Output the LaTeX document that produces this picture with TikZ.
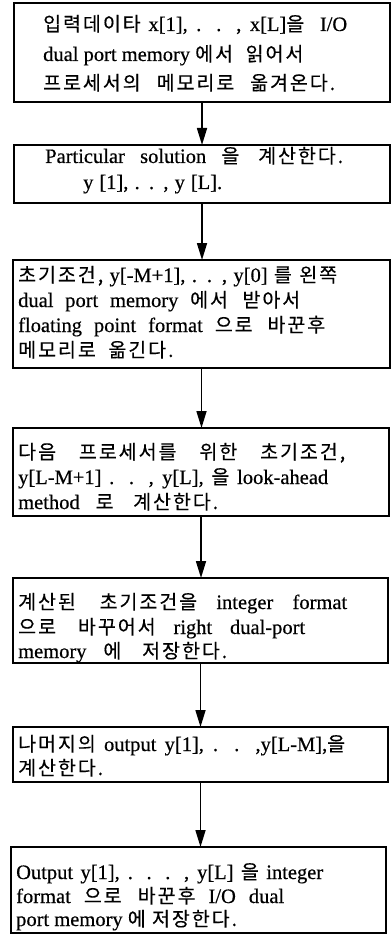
\documentclass[tikz,border=0pt]{standalone}
\usepackage{fontspec}
\setmainfont{Liberation Serif}[FakeBold=0.5]
\newfontfamily\krfont{Noto Sans CJK KR}[FakeBold=0.3,LetterSpace=10]
\usetikzlibrary{arrows.meta}
\newcommand{\ko}[1]{{\krfont\fontsize{19.5}{21}\selectfont #1}}
\newlength\tlw
\newcommand{\tline}[2]{\settowidth{\tlw}{#2}\ifdim\tlw<#1pt\makebox[#1pt][s]{#2}\else #2\fi}
\tikzset{
  box/.style={draw, line width=1.6pt, inner sep=0pt, outer sep=0pt},
  txt/.style={anchor=base west, inner sep=0pt, font=\fontsize{20.5}{22}\selectfont},
  arr/.style={line width=1.6pt, -{Triangle[width=10pt,length=17pt]}}
}
\begin{document}
\begin{tikzpicture}[x=1pt,y=-1pt]
\useasboundingbox (0,0) rectangle (391,936);
% boxes
\node[box, minimum width=376, minimum height=99] (b1) at (202,52.5) {};
\node[box, minimum width=376, minimum height=58] (b2) at (202,174) {};
\node[box, minimum width=377, minimum height=108] (b3) at (201.5,314) {};
\node[box, minimum width=376, minimum height=88] (b4) at (201,472) {};
\node[box, minimum width=375, minimum height=85] (b5) at (200.5,620.5) {};
\node[box, minimum width=375, minimum height=55] (b6) at (200.5,754.5) {};
\node[box, minimum width=375, minimum height=86] (b7) at (198.5,890) {};
% texts
\node[txt] (t11) at (43,31) {\tline{304}{\ko{입력데이타} x[1], . . , x[L]\ko{을}\ \ I/O}};
\node[txt] (t12) at (43,61) {dual port memory \ko{에서\ \ 읽어서}};
\node[txt] (t13) at (43,90) {\tline{292}{\ko{프로세서의 메모리로 옮겨온다.}}};
\node[txt] (t21) at (45,163) {\tline{298}{Particular solution \ko{을 계산한다.}}};
\node[txt] (t22) at (83,189) {\tline{139}{y [1], . . , y [L].}};
\node[txt] (t31) at (18,282) {\tline{319}{\ko{초기조건,} y[-M+1], . . , y[0] \ko{를 왼쪽}}};
\node[txt] (t32) at (18,307) {\tline{282}{dual port memory \ko{에서 받아서}}};
\node[txt] (t33) at (18,332) {\tline{307}{floating point format \ko{으로 바꾼후}}};
\node[txt] (t34) at (18,357) {\ko{메모리로\ \ 옮긴다.}};
\node[txt] (t41) at (18,459) {\tline{327}{\ko{다음 프로세서를 위한 초기조건,}}};
\node[txt] (t42) at (18,484) {\tline{310}{y[L-M+1] . . , y[L], \ko{을} look-ahead}};
\node[txt] (t43) at (18,509) {\tline{200}{method \ko{로 계산한다.}}};
\node[txt] (t51) at (18,609) {\tline{329}{\ko{계산된 초기조건을} integer format}};
\node[txt] (t52) at (18,634) {\tline{287}{\ko{으로 바꾸어서} right dual-port}};
\node[txt] (t53) at (18,658) {\tline{209}{memory \ko{에 저장한다.}}};
\node[txt] (t61) at (18,751) {\tline{327}{\ko{나머지의} output y[1], . . ,y[L-M],\ko{을}}};
\node[txt] (t62) at (18,775) {\ko{계산한다.}};
\node[txt] (t71) at (16,879) {\tline{307}{Output y[1], . . . , y[L] \ko{을} integer}};
\node[txt] (t72) at (16,903) {\tline{268}{format \ko{으로 바꾼후} I/O dual}};
\node[txt] (t73) at (16,926) {\tline{210}{port memory \ko{에 저장한다.}}};
% connectors
\draw[arr] (b1.south) -- (b1.south |- b2.north);
\draw[arr] (b2.south) -- (b2.south |- b3.north);
\draw[arr] (b3.south) -- (b3.south |- b4.north);
\draw[arr] (b4.south) -- (b4.south |- b5.north);
\draw[arr] (b5.south) -- (b5.south |- b6.north);
\draw[arr] (b6.south) -- (b6.south |- b7.north);
\end{tikzpicture}
\end{document}
